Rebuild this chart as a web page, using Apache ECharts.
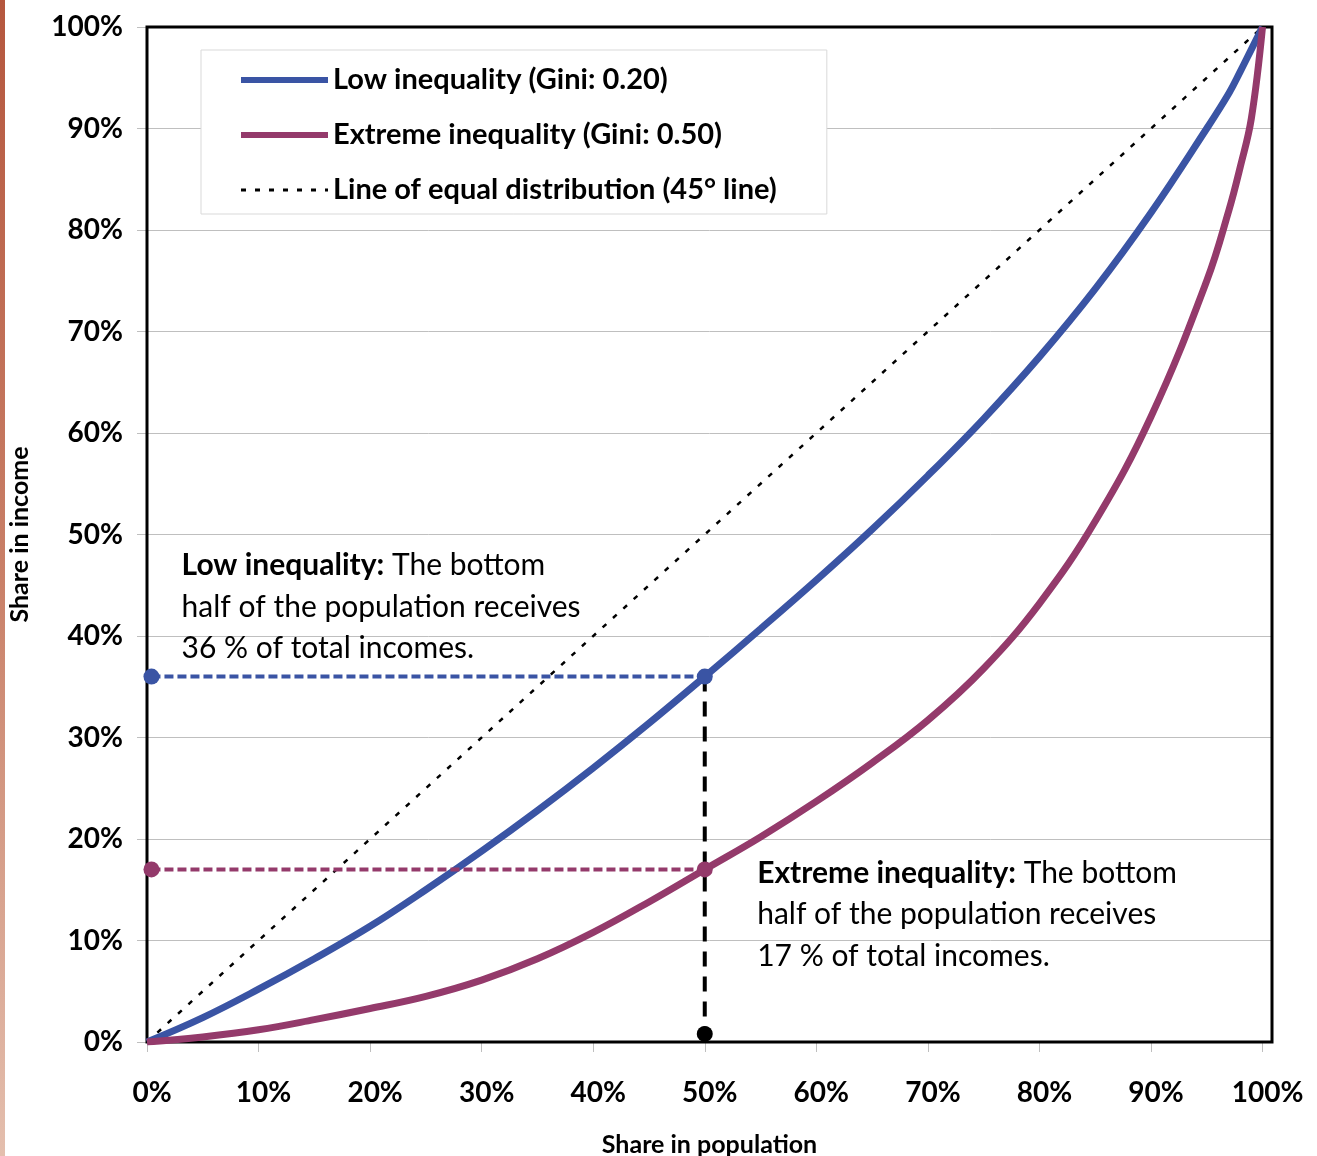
<!DOCTYPE html>
<html>
<head>
<meta charset="utf-8">
<title>Lorenz curves</title>
<script src="https://cdn.jsdelivr.net/npm/echarts@6/dist/echarts.min.js"></script>
<style>
  html, body { margin: 0; padding: 0; background: #fff; }
  #chart { width: 1317px; height: 1156px; }
</style>
</head>
<body>
<div id="chart"></div>
<script>
// share in population (%), x values for both curves
const popShare = [0, 5, 10, 15, 20, 25, 30, 35, 40, 45, 50, 55, 60, 65, 70, 75, 80, 85, 90, 95, 97, 98, 99, 100];
// share in income (%)
const lowIneq = [0, 2.4, 5.2, 8.2, 11.4, 15, 18.8, 22.8, 27, 31.4, 36, 40.7, 45.5, 50.5, 55.8, 61.4, 67.5, 74.2, 81.7, 90, 93.5, 95.6, 97.8, 100];
const extremeIneq = [0, 0.5, 1.2, 2.2, 3.3, 4.5, 6.1, 8.2, 10.8, 13.8, 17, 20.2, 23.7, 27.5, 31.7, 36.8, 43.2, 51.3, 61.6, 75, 82, 86.2, 91, 100];
const equalLine = [0, 100];
const xTicks = [0, 10, 20, 30, 40, 50, 60, 70, 80, 90, 100];

// the bottom half highlight
const halfPop = 50;
const lowAtHalf = 36;
const extremeAtHalf = 17;
const leftDotX = 0.4;
const bottomDotY = 0.8;

const names = [
  'Low inequality (Gini: 0.20)',
  'Extreme inequality (Gini: 0.50)',
  'Line of equal distribution (45\u00b0 line)'
];

const BLUE = '#3a54a4';
const PURPLE = '#943a6b';
const FONT = 'Lato';

const chart = echarts.init(document.getElementById('chart'));

const pts = (xs, ys) => xs.map((x, i) => [x, ys[i]]);

const option = {
  animation: false,
  backgroundColor: '#fff',
  grid: {
    left: 147, top: 27, right: 45, bottom: 114,
    outerBoundsMode: 'none',
    show: true, borderColor: '#000', borderWidth: 3, z: 3
  },
  legend: {
    orient: 'vertical',
    left: 201, top: 50,
    padding: [15, 50, 9, 37],
    itemWidth: 87, itemHeight: 14, itemGap: 25,
    backgroundColor: '#fff',
    borderColor: '#d9d9d9', borderWidth: 1,
    // hide the symbol drawn in the middle of line icons
    itemStyle: { opacity: 0 },
    textStyle: { fontFamily: FONT, fontWeight: 'bold', fontSize: 29, color: '#000', lineHeight: 30 },
    data: [
      { name: names[0], lineStyle: { width: 6 } },
      { name: names[1], lineStyle: { width: 6 } },
      { name: names[2], lineStyle: { width: 3 } }
    ]
  },
  xAxis: {
    type: 'value',
    min: 0, max: 100.85, interval: 10,
    name: 'Share in population',
    nameLocation: 'middle', nameGap: 90,
    nameTextStyle: { fontFamily: FONT, fontWeight: 'bold', fontSize: 25, color: '#000' },
    axisLine: { show: false },
    axisTick: { show: true, inside: false, length: 10, customValues: xTicks, lineStyle: { color: '#bfbfbf' } },
    axisLabel: {
      customValues: xTicks,
      margin: 37,
      padding: [0, 0, 0, 10],
      fontFamily: FONT, fontWeight: 'bold', fontSize: 28, color: '#000',
      formatter: v => (v <= 100.001 ? Math.round(v) + '%' : '')
    },
    splitLine: { show: false }
  },
  yAxis: {
    type: 'value',
    min: 0, max: 100, interval: 10,
    name: 'Share in income',
    nameLocation: 'middle', nameGap: 115,
    nameTextStyle: { fontFamily: FONT, fontWeight: 'bold', fontSize: 25, color: '#000' },
    axisLine: { show: false },
    axisTick: { show: true, inside: false, length: 10, lineStyle: { color: '#bfbfbf' } },
    axisLabel: {
      margin: 24,
      fontFamily: FONT, fontWeight: 'bold', fontSize: 28, color: '#000',
      formatter: v => Math.round(v) + '%'
    },
    splitLine: { show: true, lineStyle: { color: '#bfbfbf', width: 1 } }
  },
  series: [
    {
      name: names[0], type: 'line',
      data: pts(popShare, lowIneq),
      smooth: 0.4, symbol: 'none',
      lineStyle: { color: BLUE, width: 7 }, itemStyle: { color: BLUE },
      z: 4
    },
    {
      name: names[1], type: 'line',
      data: pts(popShare, extremeIneq),
      smooth: 0.4, symbol: 'none',
      lineStyle: { color: PURPLE, width: 7 }, itemStyle: { color: PURPLE },
      z: 4
    },
    {
      name: names[2], type: 'line',
      data: pts(equalLine, equalLine),
      symbol: 'none',
      lineStyle: { color: '#000', width: 2.5, type: [5, 9] }, itemStyle: { color: '#000' },
      z: 2
    },
    {
      name: 'vertical', type: 'line',
      data: [
        { value: [halfPop, lowAtHalf], symbol: 'none' },
        { value: [halfPop, bottomDotY], symbol: 'circle' }
      ],
      symbolSize: 16, showSymbol: true,
      lineStyle: { color: '#000', width: 4, type: [15, 10] }, itemStyle: { color: '#000' },
      z: 5
    },
    {
      name: 'low half', type: 'line',
      data: [[leftDotX, lowAtHalf], [halfPop, lowAtHalf]],
      symbol: 'circle', symbolSize: 16, showSymbol: true,
      lineStyle: { color: BLUE, width: 4, type: [9, 4] }, itemStyle: { color: BLUE },
      z: 6
    },
    {
      name: 'extreme half', type: 'line',
      data: [[leftDotX, extremeAtHalf], [halfPop, extremeAtHalf]],
      symbol: 'circle', symbolSize: 16, showSymbol: true,
      lineStyle: { color: PURPLE, width: 4, type: [9, 4] }, itemStyle: { color: PURPLE },
      z: 6
    }
  ]
};

chart.setOption(option);

// annotation texts, anchored in data coordinates
const toPx = (x, y) => chart.convertToPixel({ gridIndex: 0 }, [x, y]);
const noteStyle = (text, px) => ({
  type: 'text',
  x: px[0], y: px[1],
  z: 10,
  style: {
    text: text,
    fill: '#000',
    fontFamily: FONT, fontSize: 30, lineHeight: 41.5,
    verticalAlign: 'top', align: 'left',
    rich: { b: { fontFamily: FONT, fontSize: 30, fontWeight: 'bold', lineHeight: 41.5 } }
  }
});
const lowNote = toPx(3.1, 49);
const extremeNote = toPx(54.7, 18.7);

chart.setOption({
  graphic: [
    {
      type: 'rect', left: 0, top: 0,
      shape: { width: 5, height: 1156 },
      style: {
        fill: new echarts.graphic.LinearGradient(0, 0, 0, 1, [
          { offset: 0, color: '#b5573e' },
          { offset: 0.5, color: '#c98068' },
          { offset: 1, color: '#e4bfae' }
        ])
      }
    },
    noteStyle('{b|Low inequality:} The bottom\nhalf of the population receives\n36 % of total incomes.', lowNote),
    noteStyle('{b|Extreme inequality:} The bottom\nhalf of the population receives\n17 % of total incomes.', extremeNote)
  ]
});
</script>
</body>
</html>
